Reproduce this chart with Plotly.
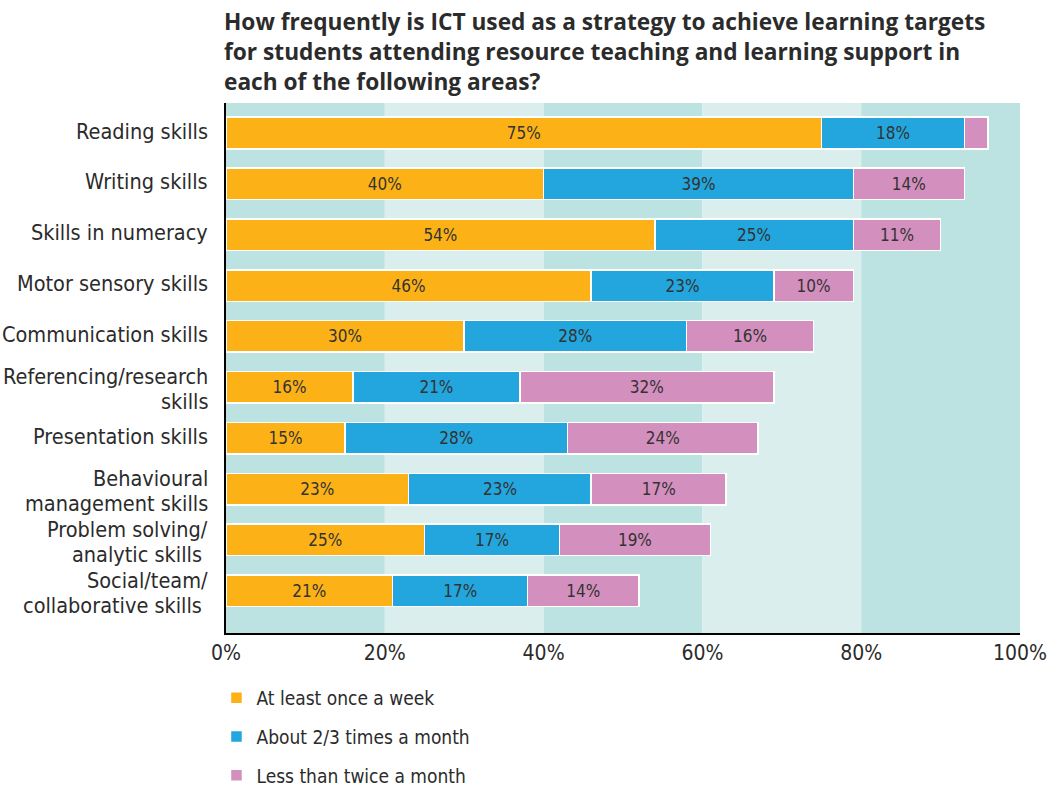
import plotly.graph_objects as go

title_lines = [
    "How frequently is ICT used as a strategy to achieve learning targets",
    "for students attending resource teaching and learning support in",
    "each of the following areas?",
]

categories = [
    "Reading skills",
    "Writing skills",
    "Skills in numeracy",
    "Motor sensory skills",
    "Communication skills",
    "Referencing/research<br>skills",
    "Presentation skills",
    "Behavioural<br>management skills",
    "Problem solving/<br>analytic skills ",
    "Social/team/<br>collaborative skills ",
]

weekly = [75, 40, 54, 46, 30, 16, 15, 23, 25, 21]
monthly = [18, 39, 25, 23, 28, 21, 28, 23, 17, 17]
less = [3, 14, 11, 10, 16, 32, 24, 17, 19, 14]

series_names = ["At least once a week", "About 2/3 times a month", "Less than twice a month"]
series_colors = ["#fcb216", "#22a6dd", "#d38fbd"]

tick_values = [0, 20, 40, 60, 80, 100]
tick_labels = ["0%", "20%", "40%", "60%", "80%", "100%"]
band_colors = ["#bce3e2", "#d9eeed", "#bce3e2", "#d9eeed", "#bce3e2"]

FONT = "DejaVu Sans Condensed, Roboto, sans-serif"

fig = go.Figure()

for i, (name, vals, col) in enumerate(zip(series_names, [weekly, monthly, less], series_colors)):
    fig.add_trace(go.Bar(
        y=list(range(len(categories))),
        x=vals,
        name=name,
        orientation="h",
        width=0.62,
        marker=dict(color=col, line=dict(color="white", width=1.5)),
        text=[f"{v}%" if v >= 5 else "" for v in vals],
        textposition="inside",
        insidetextanchor="middle",
        textangle=0,
        textfont=dict(family=FONT, size=17, color="#333333"),
        legendgroup=f"g{i}",
        customdata=[c.replace("<br>", " ") for c in categories],
        hovertemplate="%{customdata}: %{x}%<extra>" + name + "</extra>",
    ))

shapes = []
for x0, x1, c in zip(tick_values[:-1], tick_values[1:], band_colors):
    shapes.append(dict(type="rect", xref="x", yref="paper", x0=x0, x1=x1, y0=0, y1=1,
                       fillcolor=c, line=dict(width=0), layer="below"))

annotations = []
plot_top, plot_bottom = 103, 633
title_y_px = [22, 52, 82]
for line, ypx in zip(title_lines, title_y_px):
    annotations.append(dict(
        text=f"<b>{line}</b>", xref="paper", yref="paper",
        x=(222 - 226) / 794, y=(plot_bottom - ypx) / (plot_bottom - plot_top),
        xanchor="left", yanchor="middle", showarrow=False,
        font=dict(family="Open Sans, DejaVu Sans, sans-serif", size=22.7, color="#2b2b2b"),
    ))

LINE_GAP = 25
for i, cat in enumerate(categories):
    lines = cat.split("<br>")
    n = len(lines)
    for k, ln in enumerate(lines):
        shift = -((k - (n - 1) / 2) * LINE_GAP) - (2 if n > 1 else -2)
        annotations.append(dict(
            text=ln, xref="paper", yref="y", x=0, y=i,
            xanchor="right", yanchor="middle", xshift=-16, yshift=shift,
            showarrow=False,
            font=dict(family=FONT, size=21.5, color="#2b2b2b"),
        ))

fig.update_layout(
    width=1050, height=789,
    margin=dict(l=226, r=30, t=103, b=156, autoexpand=False),
    paper_bgcolor="white",
    plot_bgcolor="white",
    barmode="stack",
    shapes=shapes,
    annotations=annotations,
    showlegend=True,
    legend=dict(
        x=-0.012, y=1 - 679 / 789, xref="paper", yref="container",
        xanchor="left", yanchor="top",
        orientation="v", traceorder="grouped", tracegroupgap=11,
        font=dict(family=FONT, size=19, color="#2b2b2b"),
        bgcolor="rgba(0,0,0,0)",
    ),
    font=dict(family=FONT, color="#2b2b2b"),
)

fig.update_xaxes(
    range=[0, 100], tickvals=tick_values, ticktext=tick_labels,
    showgrid=False, zeroline=False,
    showline=True, linecolor="black", linewidth=2,
    ticks="", tickfont=dict(family=FONT, size=21, color="#2b2b2b"),
    automargin=False, fixedrange=True,
)
fig.update_yaxes(
    type="linear",
    autorange=False,
    range=[len(categories) - 1 + 0.83, -0.59],
    showgrid=False, zeroline=False, showticklabels=False,
    showline=True, linecolor="black", linewidth=2,
    ticks="", automargin=False, fixedrange=True,
)

fig.write_html(
    "out.html",
    config={"displayModeBar": False},
    post_script="document.body.style.margin='0';document.body.style.overflow='hidden';",
)
